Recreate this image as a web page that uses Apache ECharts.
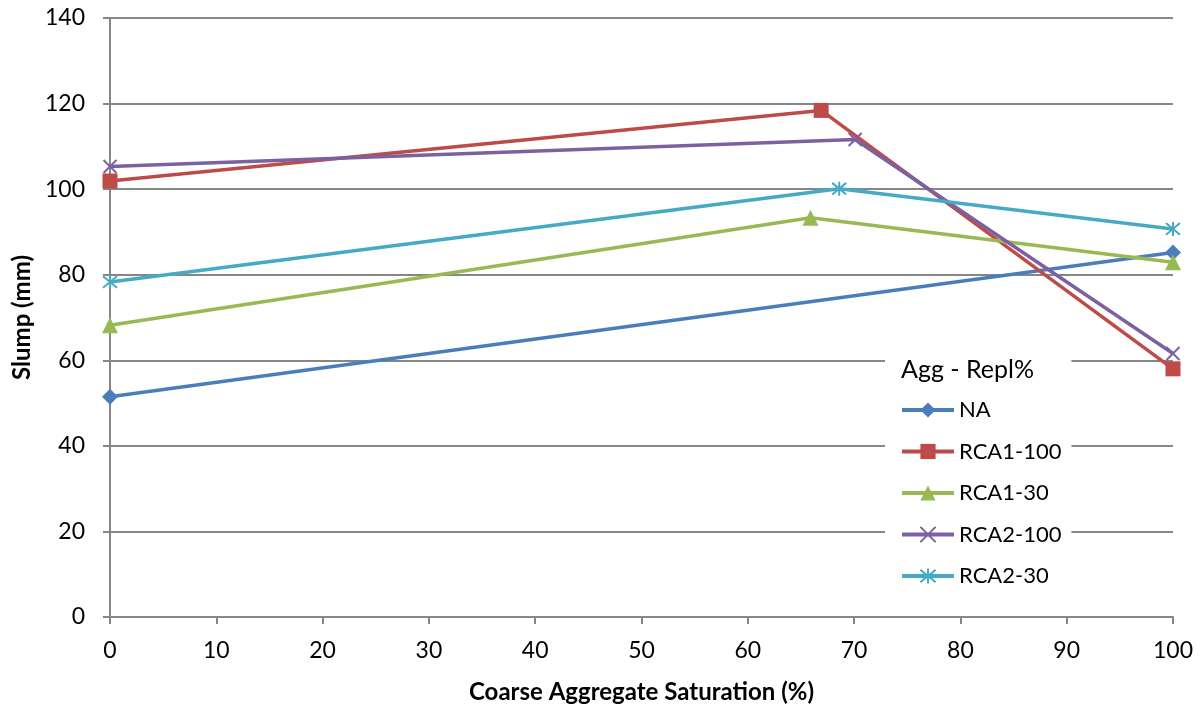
<!DOCTYPE html>
<html>
<head>
<meta charset="utf-8">
<script src="https://cdn.jsdelivr.net/npm/echarts@6/dist/echarts.min.js"></script>
<style>html,body{margin:0;padding:0;background:#fff}#c{width:1203px;height:709px}</style>
</head>
<body>
<div id="c"></div>
<script>
const seriesNames = ['NA', 'RCA1-100', 'RCA1-30', 'RCA2-100', 'RCA2-30'];
const NA = [[0, 51.5], [100, 85.2]];
const RCA1_100 = [[0, 101.9], [66.9, 118.4], [100, 58.0]];
const RCA1_30 = [[0, 68.2], [65.9, 93.3], [100, 82.9]];
const RCA2_100 = [[0, 105.3], [70.1, 111.6], [100, 61.6]];
const RCA2_30 = [[0, 78.3], [68.6, 100.1], [100, 90.7]];
const xTicks = [0, 100, 10];
const yTicks = [0, 140, 20];

const colors = ['#4a7ebb', '#be4b48', '#98b954', '#7d60a0', '#46aac5'];
const FONT = 'Lato, "Open Sans", sans-serif';
const xPath = 'path://M0,0 L10,10 M10,0 L0,10';
const starPath = 'path://M0,0 L10,10 M10,0 L0,10 M5,-1 L5,11';

function mk(name, data, i, symbol, size, stroke) {
  return {
    name: name, type: 'line', data: data,
    symbol: symbol, symbolSize: size,
    lineStyle: {color: colors[i], width: 3.5},
    itemStyle: stroke ? {color: 'rgba(0,0,0,0)', borderColor: colors[i], borderWidth: 2}
                      : {color: colors[i], borderColor: colors[i], borderWidth: 0},
    emphasis: {disabled: true},
    animation: false
  };
}

const chart = echarts.init(document.getElementById('c'));
chart.setOption({
  backgroundColor: '#fff',
  grid: {left: 110, right: 30, top: 18, bottom: 90},
  title: {
    text: 'Agg - Repl%', left: 896, top: 352,
    textStyle: {fontFamily: FONT, fontSize: 25, fontWeight: 'normal', color: '#000'}
  },
  legend: {
    orient: 'vertical', left: 885, top: 342, width: 190, height: 256,
    padding: [57, 10, 10, 15],
    backgroundColor: '#fff',
    itemWidth: 52, itemHeight: 19, itemGap: 19.5,
    lineStyle: {width: 4},
    textStyle: {fontFamily: FONT, fontSize: 22, color: '#000'},
    data: seriesNames
  },
  xAxis: {
    type: 'value', min: xTicks[0], max: xTicks[1], interval: xTicks[2],
    name: 'Coarse Aggregate Saturation (%)', nameLocation: 'middle', nameGap: 63,
    nameTextStyle: {fontFamily: FONT, fontSize: 24, fontWeight: 'bold', color: '#000'},
    axisLine: {lineStyle: {color: '#868686', width: 2}},
    axisTick: {show: true, inside: false, length: 7, lineStyle: {color: '#868686', width: 2}},
    axisLabel: {fontFamily: FONT, fontSize: 23, color: '#000', margin: 22},
    splitLine: {show: false}
  },
  yAxis: {
    type: 'value', min: yTicks[0], max: yTicks[1], interval: yTicks[2],
    name: 'Slump (mm)', nameLocation: 'middle', nameGap: 76,
    nameTextStyle: {fontFamily: FONT, fontSize: 24, fontWeight: 'bold', color: '#000'},
    axisLine: {show: true, lineStyle: {color: '#868686', width: 2}},
    axisTick: {show: true, inside: false, length: 7, lineStyle: {color: '#868686', width: 2}},
    axisLabel: {fontFamily: FONT, fontSize: 23, color: '#000', margin: 25},
    splitLine: {show: true, lineStyle: {color: '#868686', width: 2}}
  },
  series: [
    mk('NA', NA, 0, 'diamond', 16, false),
    mk('RCA1-100', RCA1_100, 1, 'rect', 15, false),
    mk('RCA1-30', RCA1_30, 2, 'triangle', 16, false),
    mk('RCA2-100', RCA2_100, 3, xPath, 13, true),
    mk('RCA2-30', RCA2_30, 4, starPath, 14, true)
  ]
});
</script>
</body>
</html>
